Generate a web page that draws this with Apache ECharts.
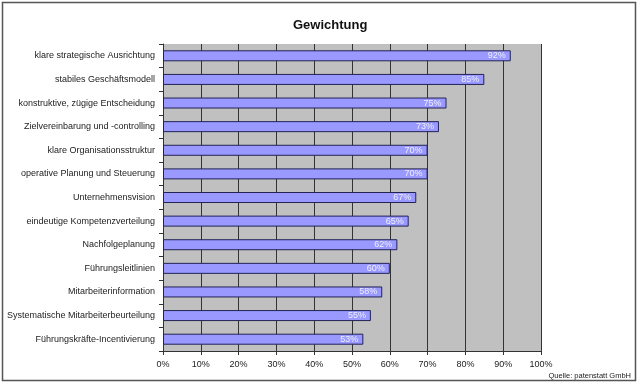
<!DOCTYPE html>
<html><head><meta charset="utf-8">
<script src="https://cdn.jsdelivr.net/npm/echarts@6/dist/echarts.min.js"></script>
<style>html,body{margin:0;padding:0;background:#fff}#c{width:640px;height:383px}</style>
</head><body><div id="c"></div>
<script>
var categories = ["klare strategische Ausrichtung","stabiles Geschäftsmodell","konstruktive, zügige Entscheidung","Zielvereinbarung und -controlling","klare Organisationsstruktur","operative Planung und Steuerung","Unternehmensvision","eindeutige Kompetenzverteilung","Nachfolgeplanung","Führungsleitlinien","Mitarbeiterinformation","Systematische Mitarbeiterbeurteilung","Führungskräfte-Incentivierung"];
var values = [92,85,75,73,70,70,67,65,62,60,58,55,53];
var chart = echarts.init(document.getElementById('c'));
chart.setOption({
  animation:false,
  backgroundColor:'#fff',
  title:{text:'Gewichtung',left:288,top:14,textStyle:{fontFamily:'Liberation Sans, Arial',fontSize:13,fontWeight:'bold',color:'#111'}},
  graphic:[
    {type:'rect',shape:{x:2.5,y:2.5,width:633,height:378},style:{fill:'none',stroke:'#555',lineWidth:1.5},z:-1},
    {type:'text',right:9,bottom:3,style:{text:'Quelle: patenstatt GmbH',fontSize:7.5,fontFamily:'Liberation Sans, Arial',fill:'#222'}}
  ],
  grid:{left:163,right:99,top:44,bottom:32,show:true,backgroundColor:'#c0c0c0',borderWidth:0},
  xAxis:{type:'value',min:0,max:100,interval:10,
    axisLine:{show:true,lineStyle:{color:'#333',width:1}},
    axisTick:{show:true,length:4,lineStyle:{color:'#333'}},
    splitLine:{show:true,lineStyle:{color:'#333',width:1}},
    axisLabel:{formatter:'{value}%',fontSize:9,color:'#222',margin:9,fontFamily:'Liberation Sans, Arial'}},
  yAxis:{type:'category',data:categories,inverse:true,
    axisLine:{show:true,lineStyle:{color:'#333',width:1}},
    axisTick:{show:true,length:4,lineStyle:{color:'#333'}},
    axisLabel:{fontSize:9,color:'#222',margin:8,fontFamily:'Liberation Sans, Arial'}},
  series:[{type:'bar',data:values,barWidth:11,
    itemStyle:{color:'#9999ff',borderColor:'#222255',borderWidth:1},
    label:{show:true,position:'insideRight',distance:5,formatter:'{c}%',color:'#eeeeff',fontSize:9,fontFamily:'Liberation Sans, Arial'}}]
});
</script></body></html>
